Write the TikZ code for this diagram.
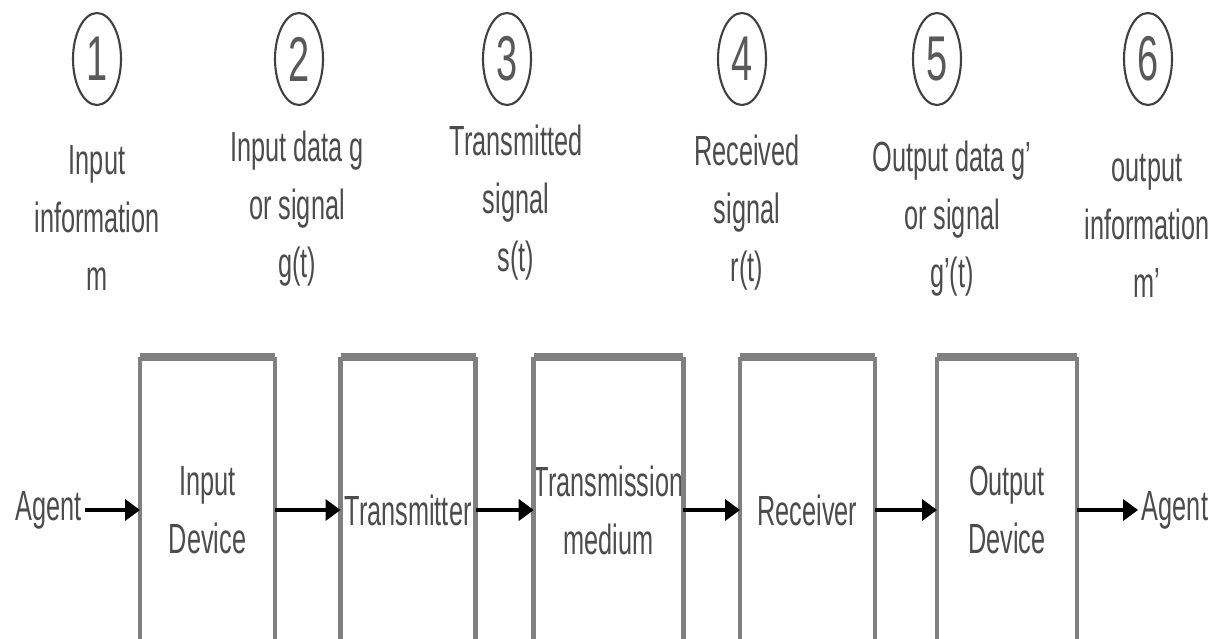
\documentclass[tikz,border=0pt]{standalone}
\usepackage{fontspec}
\setmainfont[FakeStretch=0.6]{Liberation Sans}
\usepackage{tikz}
\usetikzlibrary{shapes.geometric,arrows.meta}

\tikzset{
    num/.style={ellipse, draw=black!75, line width=1.2pt, minimum width=0.96cm, minimum height=1.84cm, inner sep=0pt, text=black!65, font=\fontsize{36}{36}\selectfont},
    lbl/.style={align=center, text=black!70, font=\fontsize{24}{33}\selectfont},
    blk/.style={minimum width=2.7cm, minimum height=6.12cm, inner sep=0pt, outer sep=0pt, align=center, text=black!70, font=\fontsize{24}{33}\selectfont},
    side/.style={draw=black!50, line width=2.6pt},
    lid/.style={draw=black!50, line width=4.4pt},
    flow/.style={-{Triangle[length=0.3cm,width=0.42cm]}, line width=2.4pt},
}

\begin{document}
\begin{tikzpicture}
        \useasboundingbox (0,0) rectangle (24.54,-12.76);

        \node[num] (C1) at (1.94,-1.18) {1};
        \node[num] (C2) at (5.98,-1.18) {2};
        \node[num] (C3) at (10.14,-1.18) {3};
        \node[num] (C4) at (14.84,-1.18) {4};
        \node[num] (C5) at (18.74,-1.18) {5};
        \node[num] (C6) at (22.96,-1.18) {6};

        \node[lbl] (L1) at (1.94,-4.36) {Input\\information\\m};
        \node[lbl] (L2) at (5.94,-4.18) {Input data g\\or signal\\g(t)};
        \node[lbl] (L3) at (10.32,-4.06) {Transmitted\\signal\\s(t)};
        \node[lbl] (L4) at (14.94,-4.26) {Received\\signal\\r(t)};
        \node[lbl] (L5) at (19.04,-4.38) {Output data g'\\or signal\\g'(t)};
        \node[lbl] (L6) at (22.94,-4.52) {output\\information\\m'};

        \node[blk] (B1) at (4.15,-10.2) {Input\\Device};
        \node[blk] (B2) at (8.16,-10.2) {Transmitter};
        \node[blk] (B3) at (12.17,-10.2) {Transmission\\medium};
        \node[blk] (B4) at (16.15,-10.2) {Receiver};
        \node[blk, minimum width=2.8cm] (B5) at (20.14,-10.2) {Output\\Device};

        \node[lbl, inner sep=2pt] (A_in) at (0.97,-10.2) {Agent};
        \node[lbl, inner sep=2pt] (A_out) at (23.5,-10.2) {Agent};

        \foreach \b in {B1,B2,B3,B4,B5} {
            \draw[side] (\b.south west) -- (\b.north west);
            \draw[side] (\b.south east) -- (\b.north east);
            \draw[lid] (\b.north west) -- (\b.north east);
        }

        \draw[flow] (A_in) -- (B1);
        \draw[flow] (B1) -- (B2);
        \draw[flow] (B2) -- (B3);
        \draw[flow] (B3) -- (B4);
        \draw[flow] (B4) -- (B5);
        \draw[flow] (B5) -- (A_out);
    \end{tikzpicture}
\end{document}
